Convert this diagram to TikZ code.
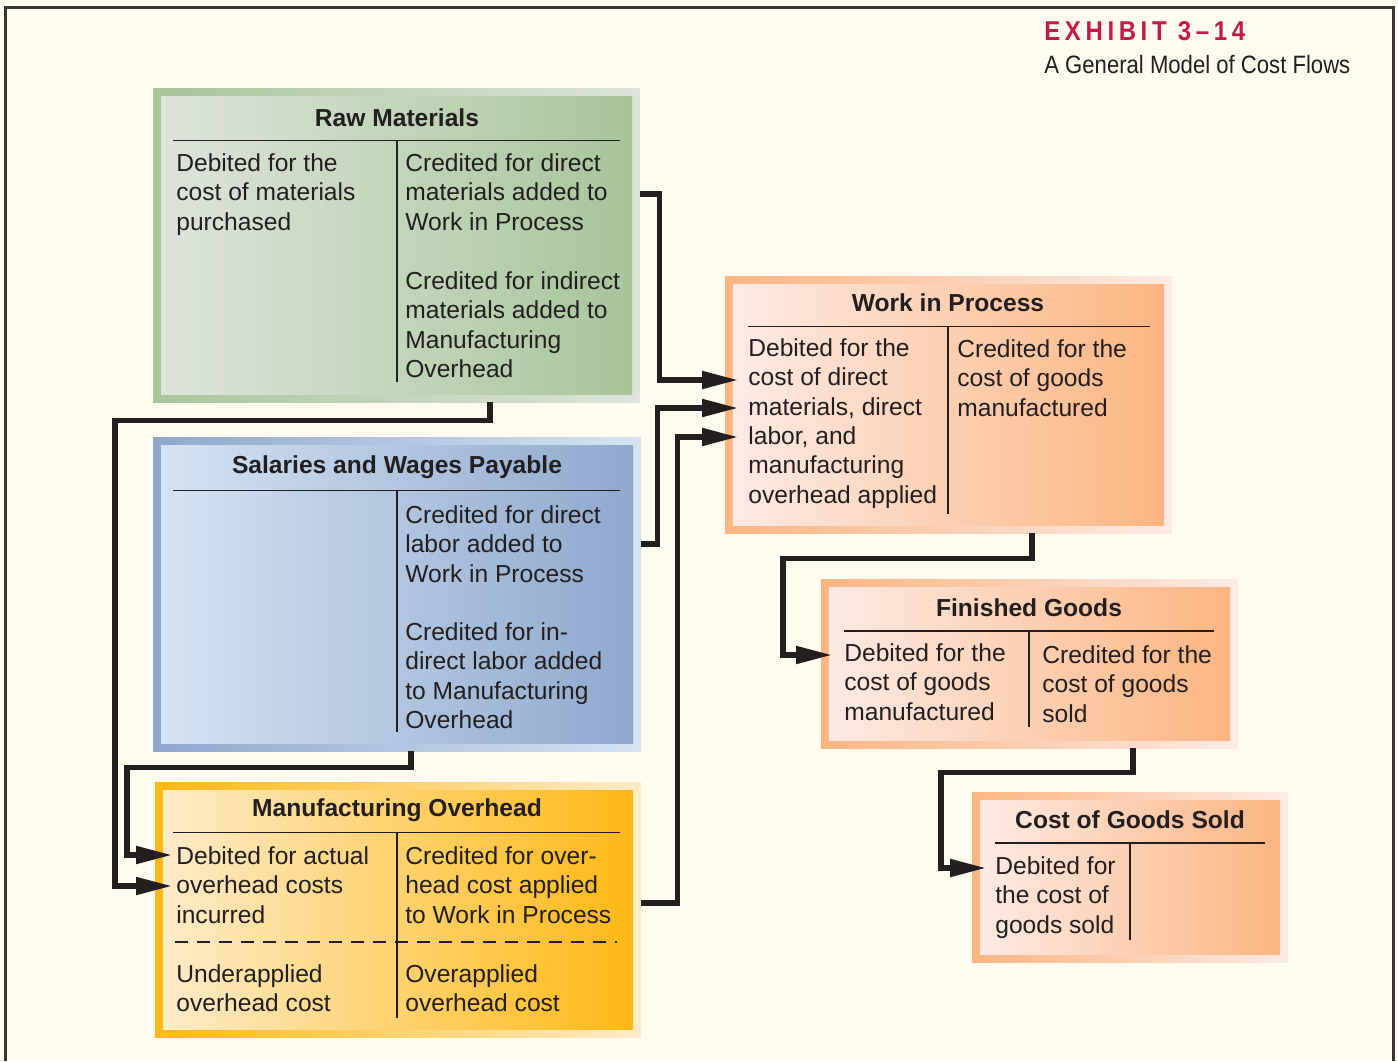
\documentclass[tikz,border=0pt]{standalone}
\usepackage{fontspec}
\setmainfont{Liberation Sans}
\newfontfamily\exhfont[LetterSpace=17,FakeStretch=0.88]{Liberation Sans}
\newfontfamily\condfont[FakeStretch=0.88]{Liberation Sans}
\usepackage{xcolor}
\usepackage{tikz}
\usetikzlibrary{arrows.meta}
\usetikzlibrary{fit}
\usetikzlibrary{positioning}

\definecolor{ink}{HTML}{231F20}
\definecolor{paper}{HTML}{FFFCEF}
\definecolor{exred}{HTML}{C4194A}
\definecolor{rmdark}{HTML}{A8C59A}
\definecolor{rmlight}{HTML}{DDE4DB}
\definecolor{swdark}{HTML}{8EA8CD}
\definecolor{swlight}{HTML}{D5E3F3}
\definecolor{ohdark}{HTML}{FDB813}
\definecolor{ohlight}{HTML}{FDEBC9}
\definecolor{pcdark}{HTML}{FBB580}
\definecolor{pclight}{HTML}{FDEAE4}

\begin{document}
\begin{tikzpicture}[
        x=0.02cm, y=-0.02cm,
        txt/.style={anchor=north west, inner sep=0pt, align=left, text=ink, font=\fontsize{14}{16.75}\selectfont},
        acchead/.style={inner sep=0pt, text=ink, font=\bfseries\fontsize{14}{17}\selectfont},
        tline/.style={draw=ink, line width=0.7pt},
        dashline/.style={draw=ink, line width=0.6pt, dash pattern=on 0.26cm off 0.18cm},
        acct/.style={inner sep=0pt},
        flow/.style={draw=ink, line width=2.9pt, -{Triangle[length=0.72cm, width=0.34cm]}, shorten >=0.2cm}
    ]

        \fill[paper] (0,0) rectangle (1398,1061);
        \useasboundingbox (0,0) rectangle (1398,1061);
        \draw[ink!90, line width=0.06cm] (5.3,1061) -- (5.3,7.5) -- (1393.5,7.5) -- (1393.5,1061);

        \node[anchor=base west, inner sep=0pt, text=exred, font=\exhfont\bfseries\fontsize{15.5}{18}\selectfont] (exh) at (1044,41) {EXHIBIT 3–14};
        \node[anchor=base west, inner sep=0pt, text=ink, font=\condfont\fontsize{14.3}{17}\selectfont] (sub) at (1044,73) {A General Model of Cost Flows};

        % Raw Materials
        \shade[left color=rmdark, right color=rmlight] (153,89) rectangle (640,402);
        \shade[left color=rmlight, middle color=rmdark!85!rmlight, right color=rmdark] (161,97) rectangle (632,394);
        \node[acct, fit={(153,89)(640,402)}] (rm) {};
        \node[acchead] (rmhead) at (397,118) {Raw Materials};
        \draw[tline] (173,140.5) -- (620,140.5);
        \draw[tline] (397,140.5) -- (397,382);
        \node[txt] (rmdeb) at (176,153) {Debited for the\\cost of materials\\purchased};
        \node[txt] (rmdm) at (405,153) {Credited for direct\\materials added to\\Work in Process};
        \node[txt] (rmim) at (405,271) {Credited for indirect\\materials added to\\Manufacturing\\Overhead};

        % Salaries and Wages Payable
        \shade[left color=swdark, right color=swlight] (153,437) rectangle (641,751);
        \shade[left color=swlight, middle color=swlight!55!swdark, right color=swdark] (161,445) rectangle (633,743);
        \node[acct, fit={(153,437)(641,751)}] (sw) {};
        \node[acchead] (swhead) at (397,467) {Salaries and Wages Payable};
        \draw[tline] (173,490.5) -- (620,490.5);
        \draw[tline] (397,490.5) -- (397,732);
        \node[txt] (swdl) at (405,505) {Credited for direct\\labor added to\\Work in Process};
        \node[txt] (swil) at (405,622) {Credited for in-\\direct labor added\\to Manufacturing\\Overhead};

        % Manufacturing Overhead
        \shade[left color=ohdark, right color=ohlight] (155,782) rectangle (641,1037);
        \shade[left color=ohlight, middle color=ohlight!75!ohdark, right color=ohdark] (163,790) rectangle (633,1029);
        \node[acct, fit={(155,782)(641,1037)}] (moh) {};
        \node[acchead] (mohhead) at (397,810) {Manufacturing Overhead};
        \draw[tline] (173,832.5) -- (620,832.5);
        \draw[tline] (397,832.5) -- (397,1018);
        \draw[dashline] (175,942) -- (617,942);
        \node[txt] (mohdeb) at (176,846) {Debited for actual\\overhead costs\\incurred};
        \node[txt] (mohap) at (405,846) {Credited for over-\\head cost applied\\to Work in Process};
        \node[txt] (mohund) at (176,964) {Underapplied\\overhead cost};
        \node[txt] (mohovr) at (405,964) {Overapplied\\overhead cost};

        % Work in Process
        \shade[left color=pcdark, right color=pclight] (725,276) rectangle (1172,533);
        \shade[left color=pclight, middle color=pcdark!80!pclight, right color=pcdark] (733,284) rectangle (1164,525);
        \node[acct, fit={(725,276)(1172,533)}] (wip) {};
        \node[acchead] (wiphead) at (948,303) {Work in Process};
        \draw[tline] (748,326.5) -- (1150,326.5);
        \draw[tline] (948,326.5) -- (948,514);
        \node[txt] (wipdeb) at (748,338) {Debited for the\\cost of direct\\materials, direct\\labor, and\\manufacturing\\overhead applied};
        \node[txt] (wipcr) at (957,339) {Credited for the\\cost of goods\\manufactured};

        % Finished Goods
        \shade[left color=pcdark, right color=pclight] (821,579) rectangle (1238,748);
        \shade[left color=pclight, middle color=pcdark!80!pclight, right color=pcdark] (829,587) rectangle (1230,740);
        \node[acct, fit={(821,579)(1238,748)}] (fg) {};
        \node[acchead] (fghead) at (1029,608) {Finished Goods};
        \draw[tline] (844,631) -- (1214,631);
        \draw[tline] (1029,631) -- (1029,727);
        \node[txt] (fgdeb) at (844,643) {Debited for the\\cost of goods\\manufactured};
        \node[txt] (fgcr) at (1042,645) {Credited for the\\cost of goods\\sold};

        % Cost of Goods Sold
        \shade[left color=pcdark, right color=pclight] (972,792) rectangle (1288,962);
        \shade[left color=pclight, middle color=pcdark!80!pclight, right color=pcdark] (980,800) rectangle (1280,954);
        \node[acct, fit={(972,792)(1288,962)}] (cgs) {};
        \node[acchead] (cgshead) at (1130,820) {Cost of Goods Sold};
        \draw[tline] (995,843) -- (1265,843);
        \draw[tline] (1130,843) -- (1130,940);
        \node[txt] (cgsdeb) at (995,856) {Debited for\\the cost of\\goods sold};

        % cost flows
        \draw[flow] (rm.east |- 0,194) -- ++(19,0) |- (wipdeb.west |- 0,380);
        \draw[flow] (sw.east |- 0,544) -- ++(16,0) |- (wipdeb.west |- 0,408);
        \draw[flow] (moh.east |- 0,903) -- ++(36,0) |- (wipdeb.west |- 0,437);
        \draw[flow, shorten >=0.08cm] (rm.south -| 490,0) -- ++(0,18) -| (115,886) -- (mohdeb.west |- 0,886);
        \draw[flow, shorten >=0.08cm] (sw.south -| 411,0) -- ++(0,16) -| (127,855) -- (mohdeb.west |- 0,855);
        \draw[flow, shorten >=0.24cm] (wip.south -| 1032,0) -- ++(0,25) -| (783,655) -- (fgdeb.west |- 0,655);
        \draw[flow, shorten >=0.18cm] (fg.south -| 1133,0) -- ++(0,24) -| (941,868) -- (cgsdeb.west |- 0,868);
    \end{tikzpicture}
\end{document}
